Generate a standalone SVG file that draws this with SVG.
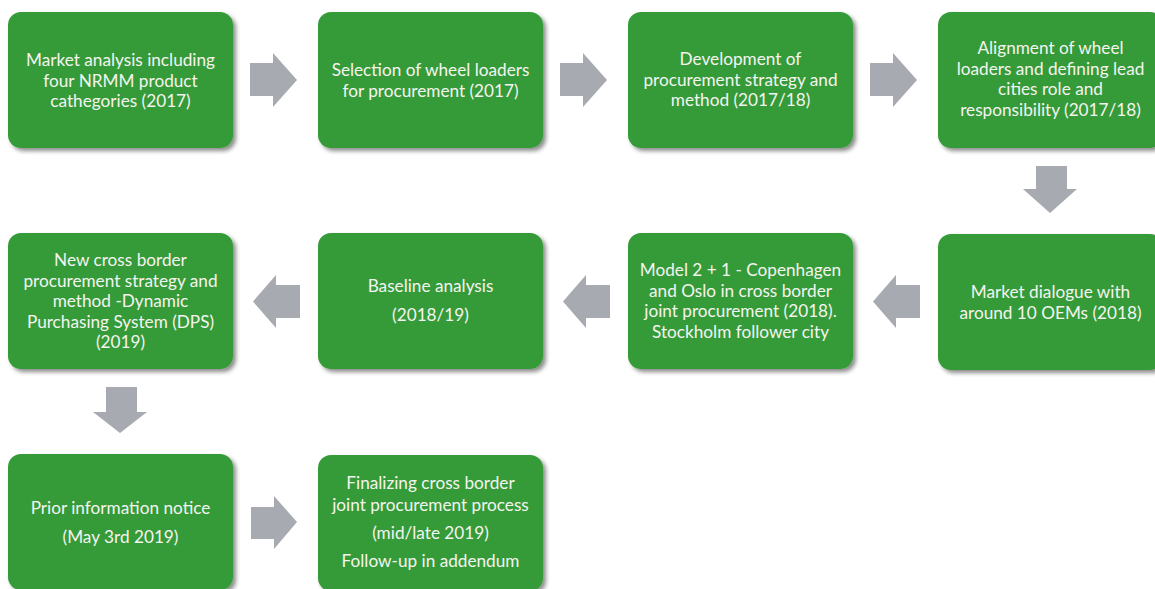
<svg xmlns="http://www.w3.org/2000/svg" width="1155" height="589" viewBox="0 0 1155 589">
<defs>
<filter id="sh" x="-10%" y="-10%" width="125%" height="130%">
<feDropShadow dx="3" dy="3" stdDeviation="2.2" flood-color="#000" flood-opacity="0.45"/>
</filter>
<style>
.box{fill:#359b37;filter:url(#sh)}
.t{font-family:Lato,"Open Sans","Liberation Sans",sans-serif;font-size:17.2px;fill:#f4f4f0;text-anchor:middle}
.arr{fill:#a8aab1}
</style>
</defs>
<rect width="1155" height="589" fill="#fff"/>
<g id="connectors">
<polygon class="arr" points="250,63 273,63 273,53 297,80 273,107 273,96 250,96"/>
<polygon class="arr" points="560,63 583,63 583,53 607,80 583,107 583,96 560,96"/>
<polygon class="arr" points="870,63 893,63 893,53 917,80 893,107 893,96 870,96"/>
<polygon class="arr" points="1036,166 1067,166 1067,189 1077,189 1050,213 1023,189 1036,189"/>
<polygon class="arr" points="920,285 896,285 896,275 873,301.5 896,328 896,318 920,318"/>
<polygon class="arr" points="610,285 586,285 586,275 563,301.5 586,328 586,318 610,318"/>
<polygon class="arr" points="300,285 276,285 276,275 253,301.5 276,328 276,318 300,318"/>
<polygon class="arr" points="106,387 137,387 137,412 147,412 120,433 93,412 106,412"/>
<polygon class="arr" points="251,507 274,507 274,496 297,522 274,549 274,539 251,539"/>
</g>
<g id="n1"><rect class="box" x="8" y="12" width="225" height="136" rx="13"/>
<text class="t" x="120.5"><tspan x="120.5" y="66">Market analysis including</tspan><tspan x="120.5" y="86.5">four NRMM product</tspan><tspan x="120.5" y="107">cathegories (2017)</tspan></text></g>
<g id="n2"><rect class="box" x="318" y="12" width="225" height="136" rx="13"/>
<text class="t"><tspan x="430.5" y="76">Selection of wheel loaders</tspan><tspan x="430.5" y="96.5">for procurement (2017)</tspan></text></g>
<g id="n3"><rect class="box" x="628" y="12" width="225" height="136" rx="13"/>
<text class="t"><tspan x="740.5" y="65">Development of</tspan><tspan x="740.5" y="85.5">procurement strategy and</tspan><tspan x="740.5" y="106">method (2017/18)</tspan></text></g>
<g id="n4"><rect class="box" x="938" y="12" width="225" height="136" rx="13"/>
<text class="t"><tspan x="1050.5" y="54">Alignment of wheel</tspan><tspan x="1050.5" y="74.5">loaders and defining lead</tspan><tspan x="1050.5" y="95">cities role and</tspan><tspan x="1050.5" y="115.5">responsibility (2017/18)</tspan></text></g>
<g id="n5"><rect class="box" x="938" y="234" width="225" height="136" rx="13"/>
<text class="t"><tspan x="1050.5" y="298">Market dialogue with</tspan><tspan x="1050.5" y="318.5">around 10 OEMs (2018)</tspan></text></g>
<g id="n6"><rect class="box" x="628" y="233" width="225" height="136" rx="13"/>
<text class="t"><tspan x="740.5" y="276">Model 2 + 1 - Copenhagen</tspan><tspan x="740.5" y="296.5">and Oslo in cross border</tspan><tspan x="740.5" y="317">joint procurement (2018).</tspan><tspan x="740.5" y="337.5">Stockholm follower city</tspan></text></g>
<g id="n7"><rect class="box" x="318" y="233" width="225" height="136" rx="13"/>
<text class="t"><tspan x="430.5" y="292">Baseline analysis</tspan><tspan x="430.5" y="321">(2018/19)</tspan></text></g>
<g id="n8"><rect class="box" x="8" y="233" width="225" height="136" rx="13"/>
<text class="t"><tspan x="120.5" y="266">New cross border</tspan><tspan x="120.5" y="286.5">procurement strategy and</tspan><tspan x="120.5" y="307">method -Dynamic</tspan><tspan x="120.5" y="327.5">Purchasing System (DPS)</tspan><tspan x="120.5" y="348">(2019)</tspan></text></g>
<g id="n9"><rect class="box" x="8" y="454" width="225" height="136" rx="13"/>
<text class="t"><tspan x="120.5" y="514">Prior information notice</tspan><tspan x="120.5" y="543">(May 3rd 2019)</tspan></text></g>
<g id="n10"><rect class="box" x="318" y="455" width="225" height="136" rx="13"/>
<text class="t"><tspan x="430.5" y="489">Finalizing cross border</tspan><tspan x="430.5" y="510.5">joint procurement process</tspan><tspan x="430.5" y="539">(mid/late 2019)</tspan><tspan x="430.5" y="567">Follow-up in addendum</tspan></text></g>
</svg>
